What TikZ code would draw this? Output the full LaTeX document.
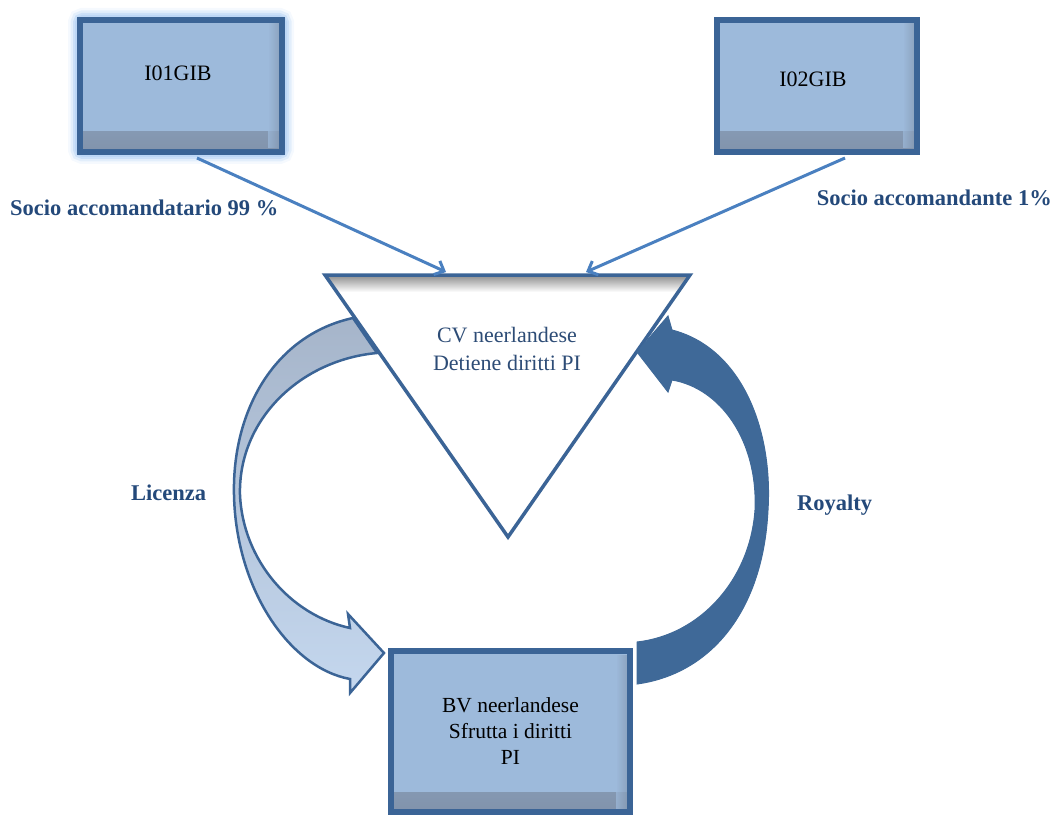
\documentclass[tikz,border=0pt]{standalone}
\usepackage{fontspec}
\setmainfont{Liberation Serif}
\usetikzlibrary{arrows.meta,calc}
\definecolor{boxfill}{HTML}{9DBADB}
\definecolor{boxborder}{HTML}{3B6496}
\definecolor{linkblue}{HTML}{4A80C0}
\definecolor{labelblue}{HTML}{24497A}
\definecolor{tritext}{HTML}{2D4C76}
\definecolor{royblue}{HTML}{3F6998}
\definecolor{glowblue}{HTML}{B9D5F5}
\definecolor{shadowgray}{HTML}{7C8CA3}
\definecolor{lictop}{HTML}{A6B5CA}
\definecolor{licmid}{HTML}{D9E4F2}
\definecolor{licbot}{HTML}{C4D7EE}
\begin{document}
\begin{tikzpicture}[x=1pt,y=-1pt,
  box/.style={draw=boxborder, line width=6pt, fill=boxfill, inner sep=0pt,
    path picture={
      \shade[top color=boxfill, bottom color=shadowgray!85!boxfill]
        ([yshift=20pt]path picture bounding box.south west) rectangle (path picture bounding box.south east);
      \shade[left color=boxfill, right color=shadowgray!85!boxfill, opacity=0.7]
        ([xshift=-14pt,yshift=-4pt]path picture bounding box.north east) rectangle ([yshift=4pt]path picture bounding box.south east);
    }},
  boxtext/.style={font=\fontsize{22}{26}\selectfont, text=black, inner sep=0pt},
  tritextstyle/.style={font=\fontsize{22}{28}\selectfont, text=tritext, align=center, inner sep=0pt},
  lab/.style={font=\fontsize{22.5}{26}\selectfont\bfseries, text=labelblue, inner sep=0pt},
  link/.style={draw=linkblue, line width=3pt, -{Straight Barb[length=8pt,width=15pt,line width=3pt]}},
  licarrow/.style={draw=boxborder, line width=2.5pt, line join=miter, top color=lictop, middle color=licmid, bottom color=licbot},
  royarrow/.style={draw=royblue, line width=1pt, fill=royblue, line join=miter},
]
\useasboundingbox (0,0) rectangle (1056,818);

% Licenza curved arrow (behind triangle)
\draw[licarrow] (377,353) .. controls (300,360) and (238,420) .. (240,495)
  .. controls (243,560) and (290,615) .. (350,628) -- (348,614) -- (384,653) -- (350,693) -- (350,679)
  .. controls (290,668) and (236,590) .. (234,495)
  .. controls (232,410) and (275,335) .. (353,318) -- cycle;

% triangle CV
\coordinate (tl) at (325,275);
\coordinate (tr) at (690,275);
\coordinate (tb) at (508,537);
\fill[white] (tl) -- (tr) -- (tb) -- cycle;
\begin{scope}
  \clip (tl) -- (tr) -- (tb) -- cycle;
  \shade[top color=black!45, bottom color=white] (325,275) rectangle (690,292);
\end{scope}
\draw[boxborder, line width=3.5pt, line join=miter] (tl) -- (tr) -- (tb) -- cycle;
\node[tritextstyle] (cv) at (507,349) {CV neerlandese\\Detiene diritti PI};
\coordinate (a1) at (446,272);
\coordinate (a2) at (586,272);

% top boxes
\foreach \w/\o in {24/0.15, 19/0.3, 14/0.55, 10/0.8}
  \draw[glowblue, line width=\w pt, opacity=\o, rounded corners=3pt] (80,20) rectangle (282,152);
\node[box, minimum width=202pt, minimum height=132pt] (b1) at (181,86) {};
\node[boxtext, anchor=base] (t1) at (178,81) {I01GIB};
\node[box, minimum width=200pt, minimum height=132pt] (b2) at (817,86) {};
\node[boxtext, anchor=base] (t2) at (813,87) {I02GIB};

% links
\draw[link] ($(b1.south)+(16,3)$) -- (a1);
\draw[link] ($(b2.south)+(28,3)$) -- (a2);

% BV box
\node[box, minimum width=239pt, minimum height=161pt, align=center,
      font=\fontsize{21.5}{26}\selectfont] (bv) at (510.5,731.5) {BV neerlandese\\Sfrutta i diritti\\PI};

% Royalty curved arrow
\draw[royarrow] (637,642) .. controls (700,635) and (750,580) .. (755,510)
  .. controls (758,440) and (720,388) .. (672,380) -- (668,392) -- (637,352) -- (668,316) -- (672,330)
  .. controls (742,348) and (773,430) .. (768,510)
  .. controls (763,612) and (710,674) .. (637,684) -- cycle;

% labels
\node[lab, anchor=base west] (l1) at (10,216) {Socio accomandatario 99 \%};
\node[lab, anchor=base east] (l2) at (1052,206) {Socio accomandante 1\%};
\node[lab, anchor=base west] (l3) at (131,500) {Licenza};
\node[lab, anchor=base west] (l4) at (797,510) {Royalty};
\end{tikzpicture}
\end{document}
